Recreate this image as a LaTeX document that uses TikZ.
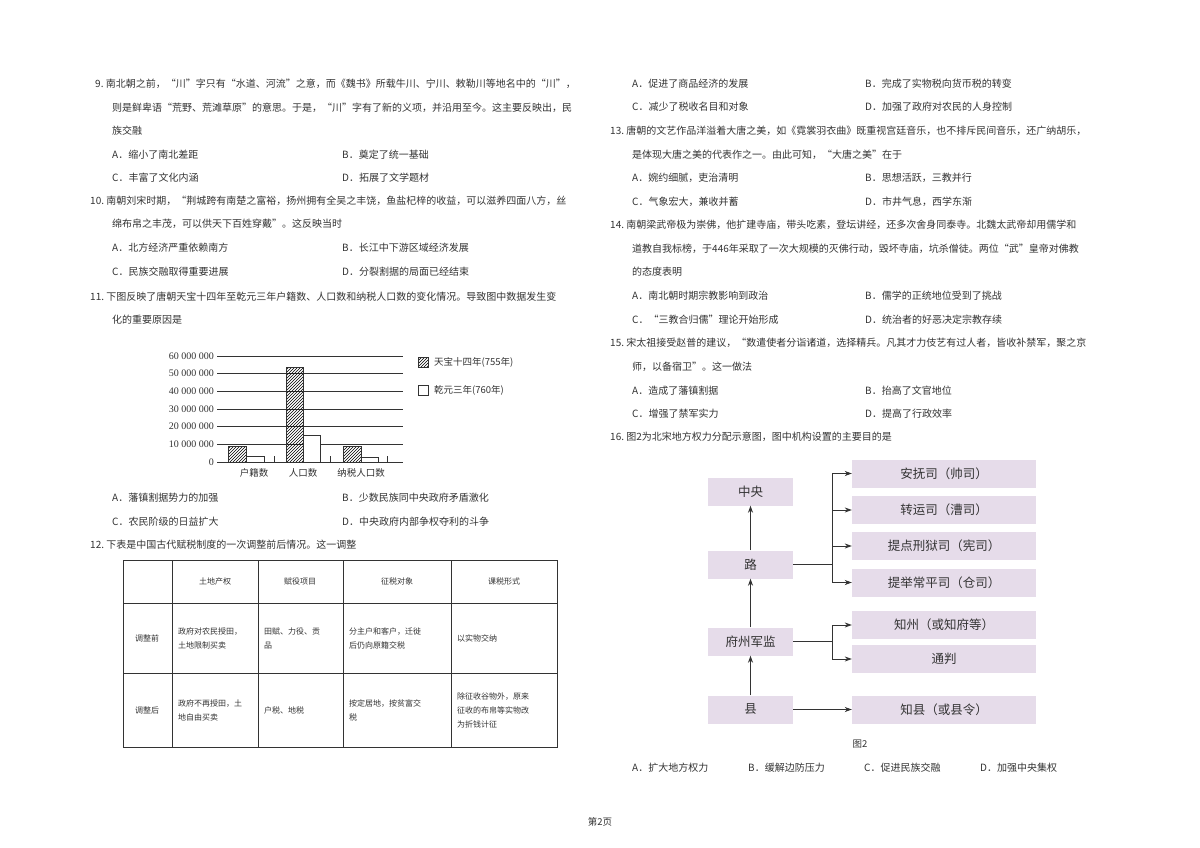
\documentclass[tikz,border=0pt]{standalone}
\usepackage{fontspec}
\setmainfont{Noto Sans CJK SC}[Scale=1]
\newfontfamily\lat{Liberation Serif}
\usetikzlibrary{patterns,arrows.meta}
\definecolor{boxfill}{HTML}{E6DCEA}
\definecolor{inkgray}{HTML}{333333}
\newcommand\putline[4]{\node[txt] (#1) at (#2,#3) {#4};}

\begin{document}
\begin{tikzpicture}[x=1pt,y=-1pt,
  txt/.style={anchor=west,inner sep=0pt,font=\fontsize{10}{12}\selectfont,text=inkgray},
  small/.style={font=\fontsize{8}{10}\selectfont,text=inkgray,inner sep=0pt},
  orgbox/.style={rectangle,fill=boxfill,minimum height=28pt,font=\fontsize{12.5}{14}\selectfont,text=inkgray},
  link/.style={-{Stealth[length=7pt,width=5pt]},thick,inkgray}]
\useasboundingbox[fill=white] (0,0) rectangle (1200,848);

% question 9 to 12, left column
\putline{q9a}{95}{84}{9.~南北朝之前，“川”字只有“水道、河流”之意，而《魏书》所载牛川、宁川、敕勒川等地名中的“川”，}
\putline{q9b}{112}{108}{则是鲜卑语“荒野、荒滩草原”的意思。于是，“川”字有了新的义项，并沿用至今。这主要反映出，民}
\putline{q9c}{112}{131}{族交融}
\putline{q9A}{112}{155}{A．缩小了南北差距}
\putline{q9B}{342}{155}{B．奠定了统一基础}
\putline{q9C}{112}{178}{C．丰富了文化内涵}
\putline{q9D}{342}{178}{D．拓展了文学题材}
\putline{q10a}{90}{201}{10.~南朝刘宋时期，“荆城跨有南楚之富裕，扬州拥有全吴之丰饶，鱼盐杞梓的收益，可以滋养四面八方，丝}
\putline{q10b}{112}{224}{绵布帛之丰茂，可以供天下百姓穿戴”。这反映当时}
\putline{q10A}{112}{248}{A．北方经济严重依赖南方}
\putline{q10B}{342}{248}{B．长江中下游区域经济发展}
\putline{q10C}{112}{272}{C．民族交融取得重要进展}
\putline{q10D}{342}{272}{D．分裂割据的局面已经结束}
\putline{q11a}{90}{297}{11.~下图反映了唐朝天宝十四年至乾元三年户籍数、人口数和纳税人口数的变化情况。导致图中数据发生变}
\putline{q11b}{112}{320}{化的重要原因是}

% bar chart
\foreach \v/\lab in {0/0,1/10 000 000,2/20 000 000,3/30 000 000,4/40 000 000,5/50 000 000,6/60 000 000}{
  \draw[inkgray,thin] (217,462-17.67*\v) -- (403,462-17.67*\v);
  \node[small,anchor=east,font=\lat\fontsize{10}{12}\selectfont] at (214,462-17.67*\v) {\lab};
}
\foreach \tx in {274,330,387} \draw[inkgray] (\tx,462) -- (\tx,456);
\draw[pattern=north east lines,draw=inkgray] (228,462) rectangle (246,446);
\draw[fill=white,draw=inkgray] (246,462) rectangle (264,456);
\draw[pattern=north east lines,draw=inkgray] (286,462) rectangle (303,367);
\draw[fill=white,draw=inkgray] (303,462) rectangle (320,435);
\draw[pattern=north east lines,draw=inkgray] (343,462) rectangle (361,446);
\draw[fill=white,draw=inkgray] (361,462) rectangle (378,457);
\node[small,font=\fontsize{9.5}{11}\selectfont] (c1) at (254,473) {户籍数};
\node[small,font=\fontsize{9.5}{11}\selectfont] (c2) at (303,473) {人口数};
\node[small,font=\fontsize{9.5}{11}\selectfont] (c3) at (361,473) {纳税人口数};
\draw[pattern=north east lines,draw=inkgray] (418,357) rectangle (428,367);
\node[small,anchor=west,font=\fontsize{9.5}{11}\selectfont] (leg1) at (434,362) {天宝十四年(755年)};
\draw[fill=white,draw=inkgray] (418,385) rectangle (428,395);
\node[small,anchor=west,font=\fontsize{9.5}{11}\selectfont] (leg2) at (434,390) {乾元三年(760年)};

\putline{q11A}{112}{498}{A．藩镇割据势力的加强}
\putline{q11B}{342}{498}{B．少数民族同中央政府矛盾激化}
\putline{q11C}{112}{522}{C．农民阶级的日益扩大}
\putline{q11D}{342}{522}{D．中央政府内部争权夺利的斗争}
\putline{q12a}{90}{545}{12.~下表是中国古代赋税制度的一次调整前后情况。这一调整}

% table
\draw[inkgray,thin] (123,560) rectangle (557,747);
\foreach \tx in {172,258,343,451} \draw[inkgray,thin] (\tx,560) -- (\tx,747);
\foreach \ty in {603,673} \draw[inkgray,thin] (123,\ty) -- (557,\ty);
\node[small] (h1) at (215,581) {土地产权};
\node[small] (h2) at (300,581) {赋役项目};
\node[small] (h3) at (397,581) {征税对象};
\node[small] (h4) at (504,581) {课税形式};
\node[small] (r1) at (147,638) {调整前};
\node[small] (r2) at (147,710) {调整后};
\node[small,anchor=west,align=left] (t11) at (178,638) {政府对农民授田，\\[4pt]土地限制买卖};
\node[small,anchor=west,align=left] (t12) at (264,638) {田赋、力役、贡\\[4pt]品};
\node[small,anchor=west,align=left] (t13) at (349,638) {分主户和客户，迁徙\\[4pt]后仍向原籍交税};
\node[small,anchor=west] (t14) at (457,638) {以实物交纳};
\node[small,anchor=west,align=left] (t21) at (178,710) {政府不再授田，土\\[4pt]地自由买卖};
\node[small,anchor=west] (t22) at (264,710) {户税、地税};
\node[small,anchor=west,align=left] (t23) at (349,710) {按定居地，按贫富交\\[4pt]税};
\node[small,anchor=west,align=left] (t24) at (457,710) {除征收谷物外，原来\\[4pt]征收的布帛等实物改\\[4pt]为折钱计征};

% question 12 options to 16, right column
\putline{q12A}{632}{84}{A．促进了商品经济的发展}
\putline{q12B}{865}{84}{B．完成了实物税向货币税的转变}
\putline{q12C}{632}{107}{C．减少了税收名目和对象}
\putline{q12D}{865}{107}{D．加强了政府对农民的人身控制}
\putline{q13a}{610}{131}{13.~唐朝的文艺作品洋溢着大唐之美，如《霓裳羽衣曲》既重视宫廷音乐，也不排斥民间音乐，还广纳胡乐，}
\putline{q13b}{632}{155}{是体现大唐之美的代表作之一。由此可知，“大唐之美”在于}
\putline{q13A}{632}{178}{A．婉约细腻，吏治清明}
\putline{q13B}{865}{178}{B．思想活跃，三教并行}
\putline{q13C}{632}{202}{C．气象宏大，兼收并蓄}
\putline{q13D}{865}{202}{D．市井气息，西学东渐}
\putline{q14a}{610}{225}{14.~南朝梁武帝极为崇佛，他扩建寺庙，带头吃素，登坛讲经，还多次舍身同泰寺。北魏太武帝却用儒学和}
\putline{q14b}{632}{249}{道教自我标榜，于446年采取了一次大规模的灭佛行动，毁坏寺庙，坑杀僧徒。两位“武”皇帝对佛教}
\putline{q14c}{632}{272}{的态度表明}
\putline{q14A}{632}{296}{A．南北朝时期宗教影响到政治}
\putline{q14B}{865}{296}{B．儒学的正统地位受到了挑战}
\putline{q14C}{632}{320}{C．“三教合归儒”理论开始形成}
\putline{q14D}{865}{320}{D．统治者的好恶决定宗教存续}
\putline{q15a}{610}{343}{15.~宋太祖接受赵普的建议，“数遣使者分诣诸道，选择精兵。凡其才力伎艺有过人者，皆收补禁军，聚之京}
\putline{q15b}{632}{367}{师，以备宿卫”。这一做法}
\putline{q15A}{632}{391}{A．造成了藩镇割据}
\putline{q15B}{865}{391}{B．抬高了文官地位}
\putline{q15C}{632}{414}{C．增强了禁军实力}
\putline{q15D}{865}{414}{D．提高了行政效率}
\putline{q16a}{610}{437}{16.~图2为北宋地方权力分配示意图，图中机构设置的主要目的是}

% figure 2
\node[orgbox,minimum width=85pt] (zy) at (750.5,491.5) {中央};
\node[orgbox,minimum width=85pt] (lu) at (750.5,564.5) {路};
\node[orgbox,minimum width=85pt] (fz) at (750.5,641.5) {府州军监};
\node[orgbox,minimum width=85pt] (xian) at (750.5,709.5) {县};
\node[orgbox,minimum width=184pt] (afs) at (944,473.5) {安抚司（帅司）};
\node[orgbox,minimum width=184pt] (zys) at (944,510) {转运司（漕司）};
\node[orgbox,minimum width=184pt] (tdx) at (944,546) {提点刑狱司（宪司）};
\node[orgbox,minimum width=184pt] (tjc) at (944,582.5) {提举常平司（仓司）};
\node[orgbox,minimum width=184pt] (zz) at (944,625) {知州（或知府等）};
\node[orgbox,minimum width=184pt] (tp) at (944,659) {通判};
\node[orgbox,minimum width=184pt] (zx) at (944,709.5) {知县（或县令）};
\draw[link] (xian) -- (fz);
\draw[link] (fz) -- (lu);
\draw[link] (lu) -- (zy);
\coordinate (b1) at (832,564.5);
\coordinate (b2) at (832,641.5);
\draw[thick,inkgray] (lu.east) -- (b1);
\foreach \n in {afs,zys,tdx,tjc} \draw[link] (b1) |- (\n.west);
\draw[thick,inkgray] (fz.east) -- (b2);
\foreach \n in {zz,tp} \draw[link] (b2) |- (\n.west);
\draw[link] (xian) -- (zx);
\node[small,font=\fontsize{9.5}{11}\selectfont] (fig2) at (860,744) {图2};

\putline{q16A}{632}{768}{A．扩大地方权力}
\putline{q16B}{748}{768}{B．缓解边防压力}
\putline{q16C}{864}{768}{C．促进民族交融}
\putline{q16D}{980}{768}{D．加强中央集权}
\node[small,font=\fontsize{9.5}{11}\selectfont] (page) at (600,822) {第2页};
\end{tikzpicture}
\end{document}
